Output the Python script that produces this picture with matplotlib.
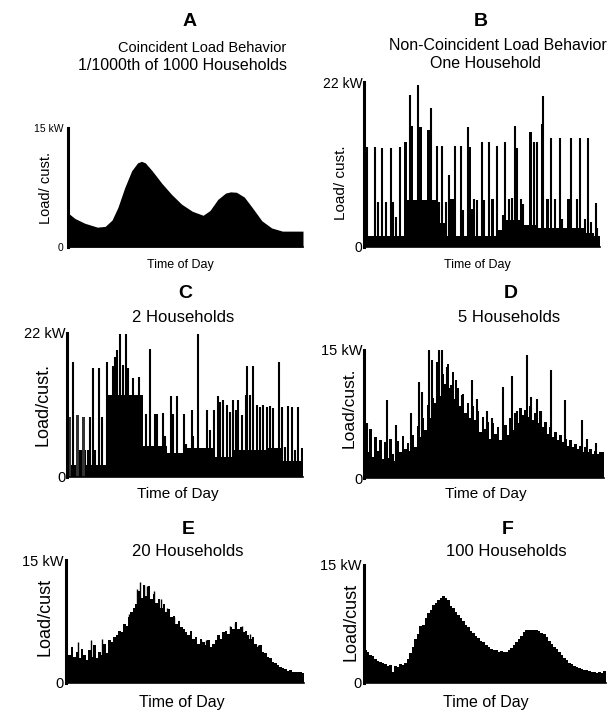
import numpy as np
import matplotlib.pyplot as plt

plt.rcParams['font.family'] = ['Liberation Sans', 'DejaVu Sans']

# ---- A: coincident load (hour, kW) ----
A_t = [0, 0.7, 1.7, 3.0, 3.8, 4.5, 5.1, 5.8, 6.5, 7.1, 7.5, 7.9, 8.6, 9.6, 10.6,
       11.6, 12.7, 13.8, 14.5, 15.3, 16.1, 16.6, 17.2, 18.0, 18.8, 19.8, 20.8, 21.9, 24]
A_kw = [4.3, 3.6, 3.0, 2.5, 2.6, 3.4, 5.0, 7.5, 9.6, 10.6, 10.8, 10.6, 9.6, 8.0, 6.6,
        5.4, 4.5, 4.0, 4.6, 6.0, 6.8, 6.95, 6.9, 6.3, 5.0, 3.3, 2.4, 2.0, 2.0]

# ---- B: one household ----
B_base_t = [0, 4.07, 7.46, 8.48, 13.56, 14.24, 16.27, 17.63, 22.37, 23.39, 24]
B_base_kw = [1.5, 6.3, 3.2, 1.5, 2.3, 3.6, 2.9, 2.6, 1.9, 1.5, 1.5]
B_spike_t = [0.34, 1.08, 1.42, 1.86, 2.2, 2.78, 2.95, 3.22, 3.66, 4.68,
             5.49, 6.78, 7.39, 7.63, 7.97, 8.31, 8.64, 9.22, 9.83, 10.1,
             10.58, 11.02, 11.19, 11.46, 11.97, 12.2, 12.71, 13.56, 14.17, 14.37,
             14.75, 15.02, 15.32, 15.59, 15.93, 16.2, 17.29, 17.63, 18.24, 18.98,
             19.39, 19.93, 20.17, 21.02, 21.63, 21.93, 22.44, 22.81, 23.12, 23.56, 23.73]
B_spike_kw = [13.4, 13.4, 6.0, 13.2, 6.0, 13.2, 6.0, 4.0, 13.4, 20.3,
              21.6, 18.5, 13.5, 6.0, 13.5, 6.0, 9.6, 13.5, 13.5, 5.0,
              16.0, 5.1, 6.4, 6.3, 14.0, 6.3, 14.0, 13.5, 4.3, 14.0,
              6.4, 6.6, 16.1, 13.2, 6.4, 5.8, 14.0, 14.0, 20.2, 14.5,
              6.4, 14.5, 3.8, 14.5, 6.4, 14.5, 3.8, 14.5, 3.4, 5.9, 2.5]
B_block_t = [4.24, 4.81, 5.76, 6.58, 8.95, 10.68, 13.05, 16.95, 18.14, 18.64, 20.85]
B_block_kw = [14.0, 16.1, 16.0, 15.6, 6.4, 13.4, 6.4, 15.4, 16.4, 6.4, 6.4]

# ---- C: 2 households ----
C_base_t = [0, 1.3, 1.9, 4.2, 7.76, 10.14, 12.17, 14.88, 16.92, 20.3, 22.0, 24]
C_base_kw = [1.8, 4.2, 1.8, 12.5, 4.7, 3.7, 4.5, 3.1, 4.2, 4.4, 2.4, 2.4]
C_block_t = [0.3, 1.02, 1.7]
C_block_kw = [9.2, 9.5, 9.2]
C_spike_t = [0.64, 1.32, 2.17, 2.34, 2.61, 2.85, 3.29, 3.53, 4.03, 4.37,
             4.64, 4.88, 5.12, 5.39, 5.66, 6.0, 6.24, 6.75, 7.36, 8.0,
             8.44, 8.61, 8.95, 9.19, 9.73, 9.97, 10.54, 10.75, 11.22, 11.9,
             12.1, 12.68, 12.85, 13.36, 13.87, 14.27, 14.54, 14.95, 15.39, 15.56,
             15.9, 16.24, 16.58, 16.92, 17.19, 17.42, 17.76, 18.2, 18.34, 18.61,
             18.95, 19.29, 19.63, 19.97, 20.31, 20.65, 20.98, 21.59, 21.83, 22.17,
             22.51, 22.85, 23.19, 23.53, 23.87]
C_spike_kw = [17.6, 4.1, 4.1, 9.2, 16.6, 4.1, 16.7, 9.2, 17.6, 10.2,
              16.9, 18.4, 19.4, 21.9, 17.1, 21.9, 16.6, 15.1, 15.3, 9.7,
              19.6, 4.6, 9.7, 9.7, 9.8, 6.2, 12.3, 9.7, 12.3, 9.7,
              5.1, 10.2, 6.2, 21.9, 4.4, 10.2, 7.2, 10.2, 12.3, 11.5,
              11.7, 11.0, 10.0, 11.7, 10.2, 11.7, 9.5, 12.5, 16.9, 12.5,
              16.9, 11.0, 10.7, 11.0, 10.7, 10.8, 10.6, 17.6, 10.7, 4.6,
              10.8, 10.7, 4.1, 10.7, 4.4]

# ---- D: 5 households, quarter-hour values ----
D_kw = [5.5, 3.0, 5.8, 2.5, 4.8, 3.2, 4.5, 2.2, 4.2, 2.4, 4.6, 2.8,
        2.0, 4.3, 3.0, 4.9, 3.4, 4.1, 3.2, 5.0, 3.6, 6.1, 4.8, 7.0,
        5.6, 8.6, 7.0, 9.4, 8.8, 10.8, 9.6, 12.2, 11.0, 13.4, 10.6, 12.4,
        9.2, 10.6, 8.4, 9.8, 7.6, 8.8, 7.0, 8.4, 6.8, 7.8, 5.4, 7.2,
        5.8, 6.6, 4.6, 6.4, 5.2, 6.0, 4.4, 5.6, 6.2, 5.0, 7.0, 5.6,
        7.6, 6.4, 8.2, 7.4, 8.0, 7.2, 8.4, 6.8, 7.6, 6.4, 7.8, 6.0,
        6.6, 5.2, 6.0, 4.8, 5.4, 4.4, 5.0, 4.2, 4.6, 3.8, 4.4, 3.6,
        4.0, 3.4, 3.8, 3.0, 3.6, 3.0, 3.4, 2.8, 3.2, 2.8, 3.0, 3.0]
D_spike_t = [0.33, 2.33, 3.17, 4.73, 5.5, 5.83, 6.5, 6.83, 7.27, 7.5,
             7.83, 8.33, 8.67, 9.17, 9.83, 10.83, 11.33, 12.33, 12.83, 13.93,
             14.83, 15.33, 16.27, 16.67, 17.33, 17.67, 18.67, 20.07, 21.83, 22.33, 23.17]
D_spike_kw = [6.4, 9.1, 6.2, 7.6, 11.3, 10.1, 15.6, 13.8, 13.6, 15.8,
              15.0, 13.0, 10.9, 11.5, 9.7, 11.5, 9.3, 7.9, 7.0, 10.7,
              11.9, 7.8, 14.4, 9.5, 9.3, 7.8, 12.7, 9.1, 6.8, 4.6, 4.1]

# ---- E: 20 households, quarter-hour values ----
E_kw = [4.0, 3.4, 4.4, 3.2, 3.8, 3.0, 4.2, 3.4, 2.8, 4.0, 3.2, 4.6,
        3.0, 3.8, 3.4, 4.8, 3.6, 5.2, 5.0, 5.6, 5.8, 6.4, 6.2, 7.2,
        7.0, 8.0, 8.6, 9.2, 9.6, 11.2, 10.4, 12.0, 10.6, 11.8, 10.2, 10.8,
        9.8, 10.2, 9.2, 9.6, 8.6, 9.0, 8.0, 8.2, 7.2, 7.6, 6.8, 6.6,
        6.2, 5.8, 6.4, 5.4, 5.6, 4.8, 5.4, 5.0, 4.6, 5.2, 4.4, 4.8,
        5.2, 5.8, 5.4, 6.2, 6.4, 6.0, 6.8, 6.6, 7.4, 6.6, 6.8, 6.2,
        6.4, 5.8, 5.4, 5.6, 4.8, 4.4, 4.6, 3.8, 3.6, 3.2, 3.0, 2.6,
        2.4, 2.2, 1.9, 1.8, 1.7, 1.5, 1.6, 1.4, 1.4, 1.3, 1.3, 1.2]
E_spike_t = [1.2, 2.5, 3.6, 6.4, 7.2, 7.5, 7.9, 8.2, 8.9, 9.6,
             10.2, 10.9, 13.6, 14.1, 16.5, 17.0, 17.7, 18.6, 19.4]
E_spike_kw = [5.0, 5.2, 5.4, 8.4, 11.5, 12.3, 12.0, 11.8, 11.2, 10.2,
              9.1, 8.0, 5.2, 5.2, 6.9, 7.3, 7.0, 6.0, 4.6]

# ---- F: 100 households, quarter-hour values ----
F_kw = [4.2, 3.9, 3.6, 3.4, 3.1, 2.8, 2.7, 2.5, 2.4, 2.2, 2.3, 1.4,
        2.2, 2.0, 2.4, 2.3, 2.6, 3.0, 3.8, 4.6, 5.6, 6.2, 7.2, 7.4,
        8.2, 8.9, 9.3, 9.9, 10.2, 10.5, 10.8, 11.1, 10.8, 10.5, 9.8, 9.5,
        9.0, 8.7, 8.2, 7.9, 7.4, 7.1, 6.6, 6.4, 6.0, 5.7, 5.4, 5.2,
        4.8, 4.6, 4.3, 4.2, 4.2, 4.0, 4.1, 4.0, 4.0, 4.2, 4.5, 4.8,
        5.2, 5.6, 6.0, 6.5, 6.7, 6.8, 6.7, 6.8, 6.7, 6.6, 6.4, 6.2,
        5.8, 5.4, 5.0, 4.6, 4.3, 4.0, 3.6, 3.2, 2.9, 2.6, 2.4, 2.2,
        2.0, 1.9, 1.8, 1.7, 1.6, 1.5, 1.4, 1.4, 1.3, 1.4, 1.3, 1.5]

W, H = 608, 714
fig = plt.figure(figsize=(W / 100, H / 100), dpi=100)


def px_axes(left, right, bottom, top):
    return fig.add_axes([left / W, 1 - bottom / H, (right - left) / W, (bottom - top) / H])


def style(ax, top, top_label, tick_size, pad):
    ax.set_xlim(0, 24)
    ax.set_ylim(0, top)
    ax.set_xticks([])
    ax.set_yticks([0, top], ['0', top_label], fontsize=tick_size)
    ax.tick_params(axis='y', length=0, pad=pad)
    for s in ('top', 'right'):
        ax.spines[s].set_visible(False)
    ax.spines['left'].set_linewidth(2.2)
    ax.spines['bottom'].set_linewidth(1.2)


def text(x, y, s, size, **kw):
    fig.text(x / W, 1 - y / H, s, fontsize=size, ha='center', va='center', **kw)


edges = np.arange(97) * 0.25  # quarter-hour bin edges over the day

# A
axA = px_axes(68, 303, 247, 128)
axA.fill_between(A_t, A_kw, color='black', lw=0)
style(axA, 15, '15 kW', 7.5, 3)

# B
axB = px_axes(364, 600, 247, 82)
axB.fill_between(B_base_t, B_base_kw, step='post', color='black', lw=0)
axB.bar(B_block_t, B_block_kw, width=0.35, color='black', lw=0)
axB.vlines(B_spike_t, 0, B_spike_kw, color='black', lw=1.5)
style(axB, 22, '22 kW', 10, 1)

# C
axC = px_axes(67, 303, 477, 333)
axC.fill_between(C_base_t, C_base_kw, step='post', color='black', lw=0)
axC.bar(C_block_t, C_block_kw, width=0.3, color='#333333', lw=0)
axC.vlines(C_spike_t, 0, C_spike_kw, color='black', lw=1.5)
style(axC, 22, '22 kW', 10.5, 1)

# D
axD = px_axes(364, 604, 478, 350)
axD.stairs(D_kw, edges, fill=True, color='black', lw=0)
axD.vlines(D_spike_t, 0, D_spike_kw, color='black', lw=1.5)
style(axD, 15, '15 kW', 10.5, 1)

# E
axE = px_axes(66, 304, 683, 560)
axE.stairs(E_kw, edges, fill=True, color='black', lw=0)
axE.vlines(E_spike_t, 0, E_spike_kw, color='black', lw=1.0)
style(axE, 15, '15 kW', 10.5, 2)

# F
axF = px_axes(364, 606, 683, 565)
axF.stairs(F_kw, edges, fill=True, color='black', lw=0)
style(axF, 15, '15 kW', 10.5, 2)

# titles
text(190, 22, 'A', 14, fontweight='bold')
text(202, 48, 'Coincident Load Behavior', 10.5)
text(183, 65, '1/1000th of 1000 Households', 11.5)
text(481, 22, 'B', 14, fontweight='bold')
text(498, 46, 'Non-Coincident Load Behavior', 11.5)
text(486, 64, 'One Household', 11.5)
text(185, 293, 'C', 14, fontweight='bold')
text(183, 317, '2 Households', 12)
text(511, 293, 'D', 14, fontweight='bold')
text(509, 317, '5 Households', 12)
text(188, 530, 'E', 14, fontweight='bold')
text(188, 551, '20 Households', 12)
text(508, 530, 'F', 14, fontweight='bold')
text(506, 551, '100 Households', 12)

# axis labels
text(180, 265, 'Time of Day', 9)
text(477, 265, 'Time of Day', 9)
text(178, 494, 'Time of Day', 11)
text(486, 494, 'Time of Day', 11)
text(182, 703, 'Time of Day', 11.5)
text(486, 703, 'Time of Day', 11.5)
text(46, 188, 'Load/ cust.', 10.5, rotation=90)
text(341, 183, 'Load/ cust.', 11, rotation=90)
text(43, 405, 'Load/cust.', 13, rotation=90)
text(349, 408, 'Load/cust.', 12.5, rotation=90)
text(45, 617, 'Load/cust', 13, rotation=90)
text(351, 622, 'Load/cust', 13, rotation=90)

fig.savefig('out.png', dpi=100)
